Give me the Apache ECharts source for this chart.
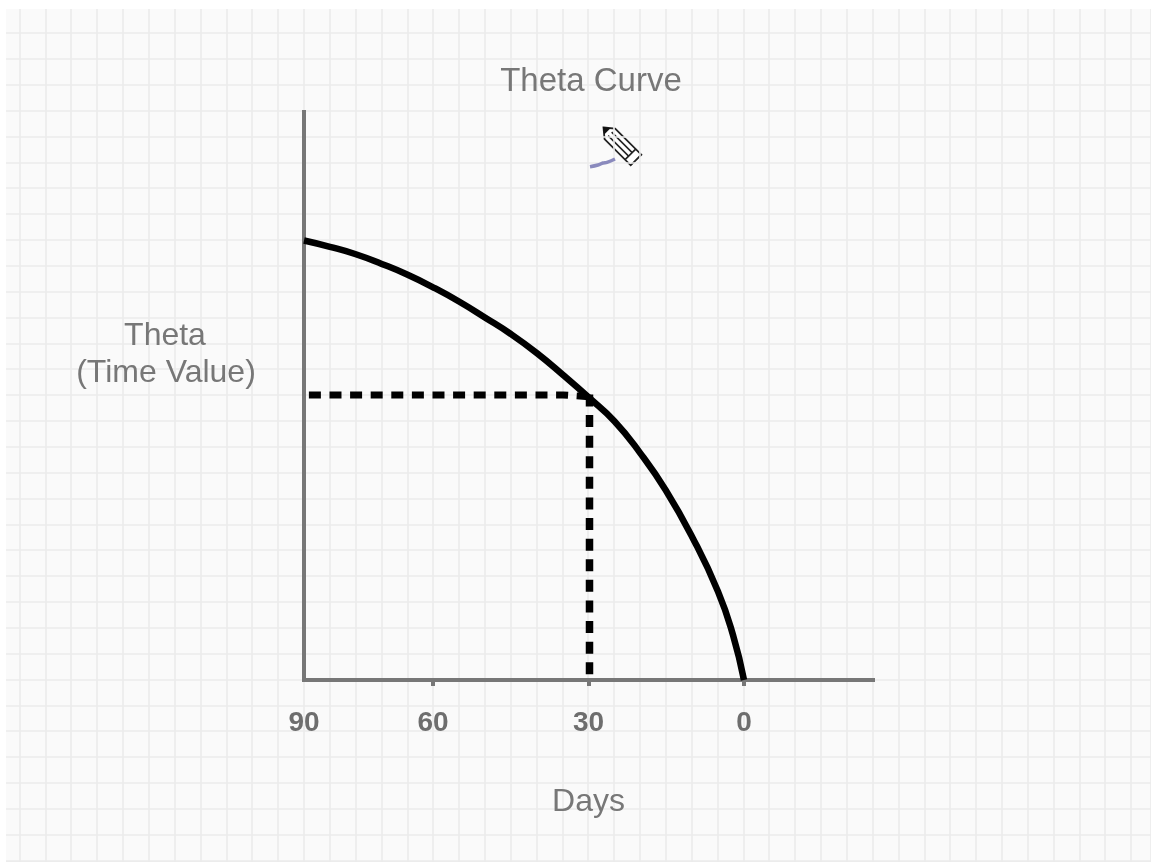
<!DOCTYPE html>
<html>
<head>
<meta charset="utf-8">
<title>Theta Curve</title>
<script src="https://cdn.jsdelivr.net/npm/echarts@6/dist/echarts.min.js"></script>
<style>
html, body { margin: 0; padding: 0; background: #fff; }
#main { width: 1151px; height: 862px; }
</style>
</head>
<body>
<div id="main"></div>
<script>
// x is "days left" as placed on the drawn axis: the sketch's ticks are not evenly spaced
var curveDays = [90, 84.7, 79.4, 74.1, 68.8, 63.6, 58.3, 53, 47.7, 42.3, 37, 31.8, 26.5, 21.3, 16, 10.6, 5.3, 2.25, 0];
var curveTheta = [77.1, 76, 74.7, 73, 71.1, 68.9, 66.4, 63.6, 60.7, 57.3, 53.5, 49.6, 45.4, 39.9, 33.3, 25.1, 15.5, 7.9, 0];
var dropAcrossDays = [89, 37, 31.6];
var dropAcrossTheta = [50, 50, 49.7];
var dropDownDays = [31.6, 31.6];
var dropDownTheta = [50.1, 0.6];
var tickPlaces = [90, 63.6, 31.8, 0];
var tickLabels = ['90', '60', '30', '0'];

var ink = '#777777';
var paperLine = '#ebebeb';
var textFont = '"Liberation Sans", Arial, sans-serif';

function pairs(xs, ys) {
	return xs.map(function (x, i) { return [x, ys[i]]; });
}

function plainText(text, left, top, size) {
	return {
		text: text, left: left, top: top, padding: 0, textAlign: 'center', textVerticalAlign: 'middle',
		textStyle: { color: ink, fontFamily: textFont, fontSize: size, fontWeight: 'normal' }
	};
}

// one direction of the squared paper: a hidden axis that only draws split lines
function paperAxis(grid, max, inverse, lines) {
	return {
		type: 'value', gridIndex: grid, min: 0, max: max, interval: 1, inverse: inverse,
		axisLine: { show: false }, axisTick: { show: false }, axisLabel: { show: false },
		splitLine: { show: lines, lineStyle: { color: paperLine, width: 1.6 } }
	};
}

var chart = echarts.init(document.getElementById('main'));
chart.setOption({
	backgroundColor: '#fafafa',
	animation: false,
	title: [
		plainText('Theta Curve', 591, 82, 33),
		plainText('Theta', 165, 336, 32),
		plainText('(Time Value)', 166, 373, 32)
	],
	grid: [
		{ left: 304, top: 112, width: 569, height: 568 },
		{ left: 19.5, top: 0, width: 1131.5, height: 862 },
		{ left: 0, top: 7.14, width: 1151, height: 854.86 }
	],
	xAxis: [
		{
			type: 'value', gridIndex: 0, inverse: true, min: -26.39, max: 90,
			splitLine: { show: false },
			axisLine: { lineStyle: { color: ink, width: 4, cap: 'square' } },
			axisTick: { show: true, length: 6, customValues: tickPlaces.slice(1), lineStyle: { color: ink, width: 4 } },
			axisLabel: {
				customValues: tickPlaces, margin: 29,
				color: '#6e6e6e', fontFamily: textFont, fontSize: 28, fontWeight: 'bold',
				formatter: function (v) { return tickLabels[tickPlaces.indexOf(v)]; }
			},
			name: 'Days', nameLocation: 'middle', nameGap: 106,
			nameTextStyle: { color: ink, fontFamily: textFont, fontSize: 32 }
		},
		paperAxis(1, 43.77, false, true),
		paperAxis(2, 44.5, false, false)
	],
	yAxis: [
		{
			type: 'value', gridIndex: 0, min: 0, max: 99.65,
			splitLine: { show: false }, axisTick: { show: false }, axisLabel: { show: false },
			axisLine: { show: true, onZero: false, lineStyle: { color: ink, width: 4, cap: 'square' } }
		},
		paperAxis(1, 33, true, false),
		paperAxis(2, 33.06, true, true)
	],
	series: [
		{
			type: 'line', data: pairs(curveDays, curveTheta), smooth: 0.5, showSymbol: false, clip: false,
			lineStyle: { color: '#000', width: 6.5 }, z: 4
		},
		{
			type: 'line', data: pairs(dropAcrossDays, dropAcrossTheta), showSymbol: false, clip: false,
			lineStyle: { color: '#000', width: 7, type: [12, 8.6], cap: 'butt' }, z: 3
		},
		{
			type: 'line', data: pairs(dropDownDays, dropDownTheta), showSymbol: false, clip: false,
			lineStyle: { color: '#000', width: 7.5, type: [12, 8.6], cap: 'butt' }, z: 3
		}
	],
	graphic: [
		// white page edge around the paper
		{ type: 'rect', z: 1, shape: { x: 0, y: 0, width: 1151, height: 9 }, style: { fill: '#fff' } },
		{ type: 'rect', z: 1, shape: { x: 0, y: 0, width: 6, height: 862 }, style: { fill: '#fff' } },
		// pencil cursor and its stroke
		{
			type: 'group', z: 5, x: 603.5, y: 127.5, rotation: -Math.PI / 4,
			children: [
				{ type: 'polygon', shape: { points: [[0, 0], [9, -7.5], [46, -7.5], [46, 7.5], [9, 7.5]] },
					style: { fill: '#fff', stroke: '#222', lineWidth: 1.8 } },
				{ type: 'polygon', shape: { points: [[0, 0], [5, -3.5], [5, 3.5]] }, style: { fill: '#111', stroke: '#111' } },
				{ type: 'line', shape: { x1: 9, y1: -2.5, x2: 38, y2: -2.5 }, style: { stroke: '#222', lineWidth: 1.5 } },
				{ type: 'line', shape: { x1: 9, y1: 2.5, x2: 38, y2: 2.5 }, style: { stroke: '#222', lineWidth: 1.5 } },
				{ type: 'line', shape: { x1: 38, y1: -7.5, x2: 38, y2: 7.5 }, style: { stroke: '#222', lineWidth: 1.6 } }
			]
		},
		{
			type: 'polyline', z: 5,
			shape: { points: [[590, 166.7], [598, 165], [603, 163], [607, 162.3], [615, 159]], smooth: 0.4 },
			style: { stroke: '#8a8abd', lineWidth: 3.5, fill: null }
		}
	]
});
</script>
</body>
</html>
